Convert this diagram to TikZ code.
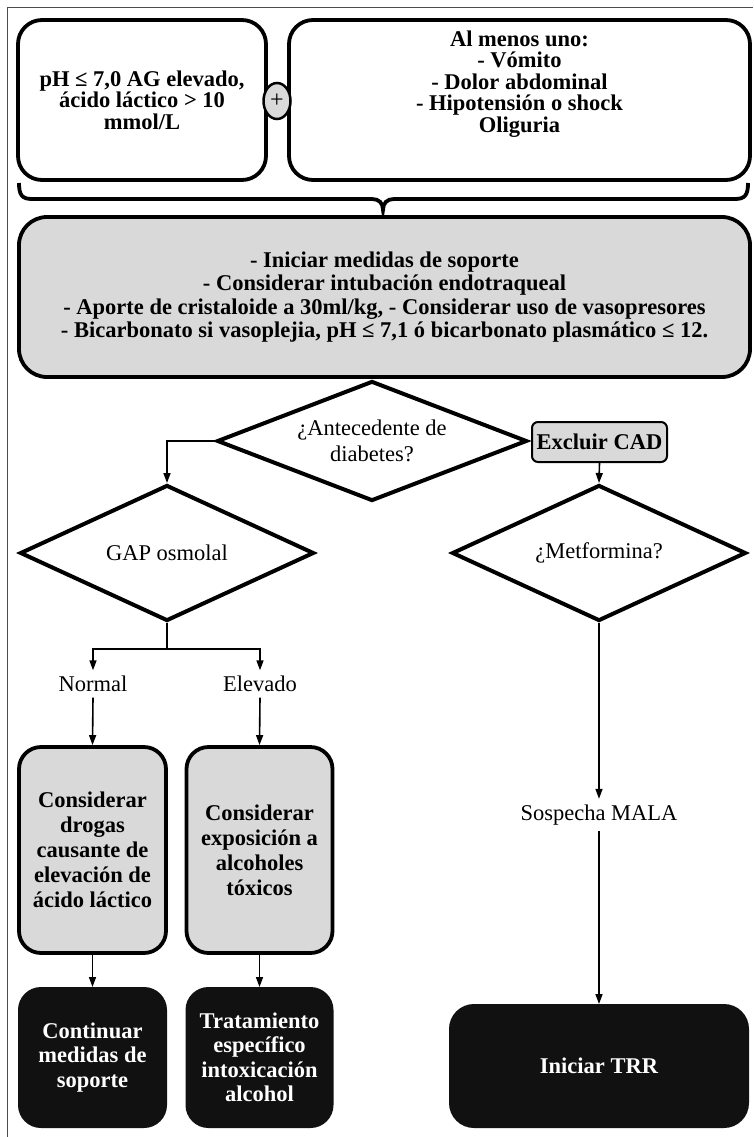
\documentclass[tikz,border=0pt]{standalone}
\usepackage{fontspec}
\setmainfont{Liberation Serif}
\usetikzlibrary{shapes.geometric,arrows.meta}
\definecolor{boxgray}{HTML}{D9D9D9}
\definecolor{nearblack}{HTML}{111111}
\tikzset{
  bfont/.style={font=\fontsize{22.5}{21.5}\selectfont\bfseries},
  rfont/.style={font=\fontsize{22.5}{26}\selectfont},
  whitebox/.style={draw=black, line width=3.8pt, rounded corners=24pt, align=center, inner sep=0pt, bfont},
  graybox/.style={whitebox, fill=boxgray},
  tallbox/.style={draw=black, line width=3.8pt, rounded corners=22pt, fill=boxgray, align=center, inner sep=0pt, font=\fontsize{22.5}{25}\selectfont\bfseries},
  blackbox/.style={draw=nearblack, fill=nearblack, line width=2pt, rounded corners=22pt, align=center, inner sep=0pt, text=white, font=\fontsize{22.5}{24.5}\selectfont\bfseries},
  decision/.style={diamond, draw=black, line width=4pt, aspect=2.2, inner sep=0pt, align=center, rfont},
  lbl/.style={inner sep=0pt, minimum height=27pt, rfont},
  arr/.style={line width=1.6pt, -{Triangle[length=10pt,width=7pt]}},
  plain/.style={line width=1.6pt},
}
\begin{document}
\begin{tikzpicture}[x=1pt,y=-1pt]
\useasboundingbox (0,0) rectangle (753,1137);
\fill[white] (0,0) rectangle (753,1137);
% outer frame
\draw[gray!60!black, line width=1pt] (7,1137) -- (7,8) -- (753,8);

% top boxes
\node[whitebox, minimum width=248pt, minimum height=160pt] (cond) at (142,100)
  {pH ≤ 7,0 AG elevado,\\ácido láctico > 10\\mmol/L};
\node[whitebox, minimum width=461pt, minimum height=160pt] (symp) at (519.5,100) {};
\node[align=center, inner sep=0pt, bfont] (symptxt) at (519.5,84)
  {Al menos uno:\\- Vómito\\- Dolor abdominal\\- Hipotensión o shock\\Oliguria};
\node[ellipse, draw=black, line width=2.5pt, fill=boxgray, minimum width=27pt, minimum height=36pt, inner sep=0pt, font=\fontsize{24}{24}\selectfont] (plus) at (277,101) {+};

% brace
\draw[line width=3.8pt] (19,183) .. controls (19,195) and (22,199) .. (32,199)
  -- (372,199) .. controls (379,199) and (383,203) .. (383,210)
  .. controls (383,203) and (387,199) .. (394,199)
  -- (735,199) .. controls (745,199) and (748,195) .. (748,183);

% support box
\node[graybox, rounded corners=28pt, minimum width=731pt, minimum height=160pt, font=\fontsize{22.5}{23.3}\selectfont\bfseries] (sup) at (384.5,297)
  {- Iniciar medidas de soporte\\- Considerar intubación endotraqueal\\- Aporte de cristaloide a 30ml/kg, - Considerar uso de vasopresores\\- Bicarbonato si vasoplejia, pH ≤ 7,1 ó bicarbonato plasmático ≤ 12.};

% decisions
\node[decision, minimum width=310pt, minimum height=120pt] (diab) at (372,441) {¿Antecedente de\\diabetes?};
\node[draw=black, line width=2pt, rounded corners=6pt, fill=boxgray, minimum width=135pt, minimum height=40pt, inner sep=0pt, bfont] (cad) at (599.5,442) {Excluir CAD};
\node[decision, minimum width=294pt, minimum height=136pt] (gap) at (167,553) {GAP osmolal};
\node[decision, minimum width=294pt, minimum height=136pt] (metf) at (599,553) {¿Metformina?};

% labels
\node[lbl] (normal) at (93,684) {Normal};
\node[lbl] (elev) at (260,684) {Elevado};
\node[lbl, minimum height=32pt] (mala) at (599,815) {Sospecha MALA};

% gray boxes
\node[tallbox, minimum width=147pt, minimum height=206pt] (drug) at (92.5,850)
  {Considerar\\drogas\\causante de\\elevación de\\ácido láctico};
\node[tallbox, minimum width=146pt, minimum height=206pt] (alc) at (259.5,850)
  {Considerar\\exposición a\\alcoholes\\tóxicos};

% black boxes
\node[blackbox, minimum width=147pt, minimum height=139pt] (cont) at (92.5,1057.5)
  {Continuar\\medidas de\\soporte};
\node[blackbox, minimum width=146pt, minimum height=139pt] (trat) at (259.5,1057.5)
  {Tratamiento\\específico\\intoxicación\\alcohol};
\node[blackbox, minimum width=298pt, minimum height=122pt, rounded corners=24pt] (trr) at (599,1066)
  {Iniciar TRR};

% connectors
\draw[arr] (diab.west) -| (gap.north);
\draw[arr] (cad.south) -- (metf.north);
\draw[plain] (gap.south) -- ++(0,26) coordinate (br);
\draw[arr] (br) -| (normal.north);
\draw[arr] (br) -| (elev.north);
\draw[arr] (normal.south) -- (drug.north);
\draw[arr] (elev.south) -- (alc.north);
\draw[arr] (drug.south) -- (cont.north);
\draw[arr] (alc.south) -- (trat.north);
\draw[arr] (metf.south) -- (mala.north);
\draw[arr] (mala.south) -- (trr.north);
\end{tikzpicture}
\end{document}
